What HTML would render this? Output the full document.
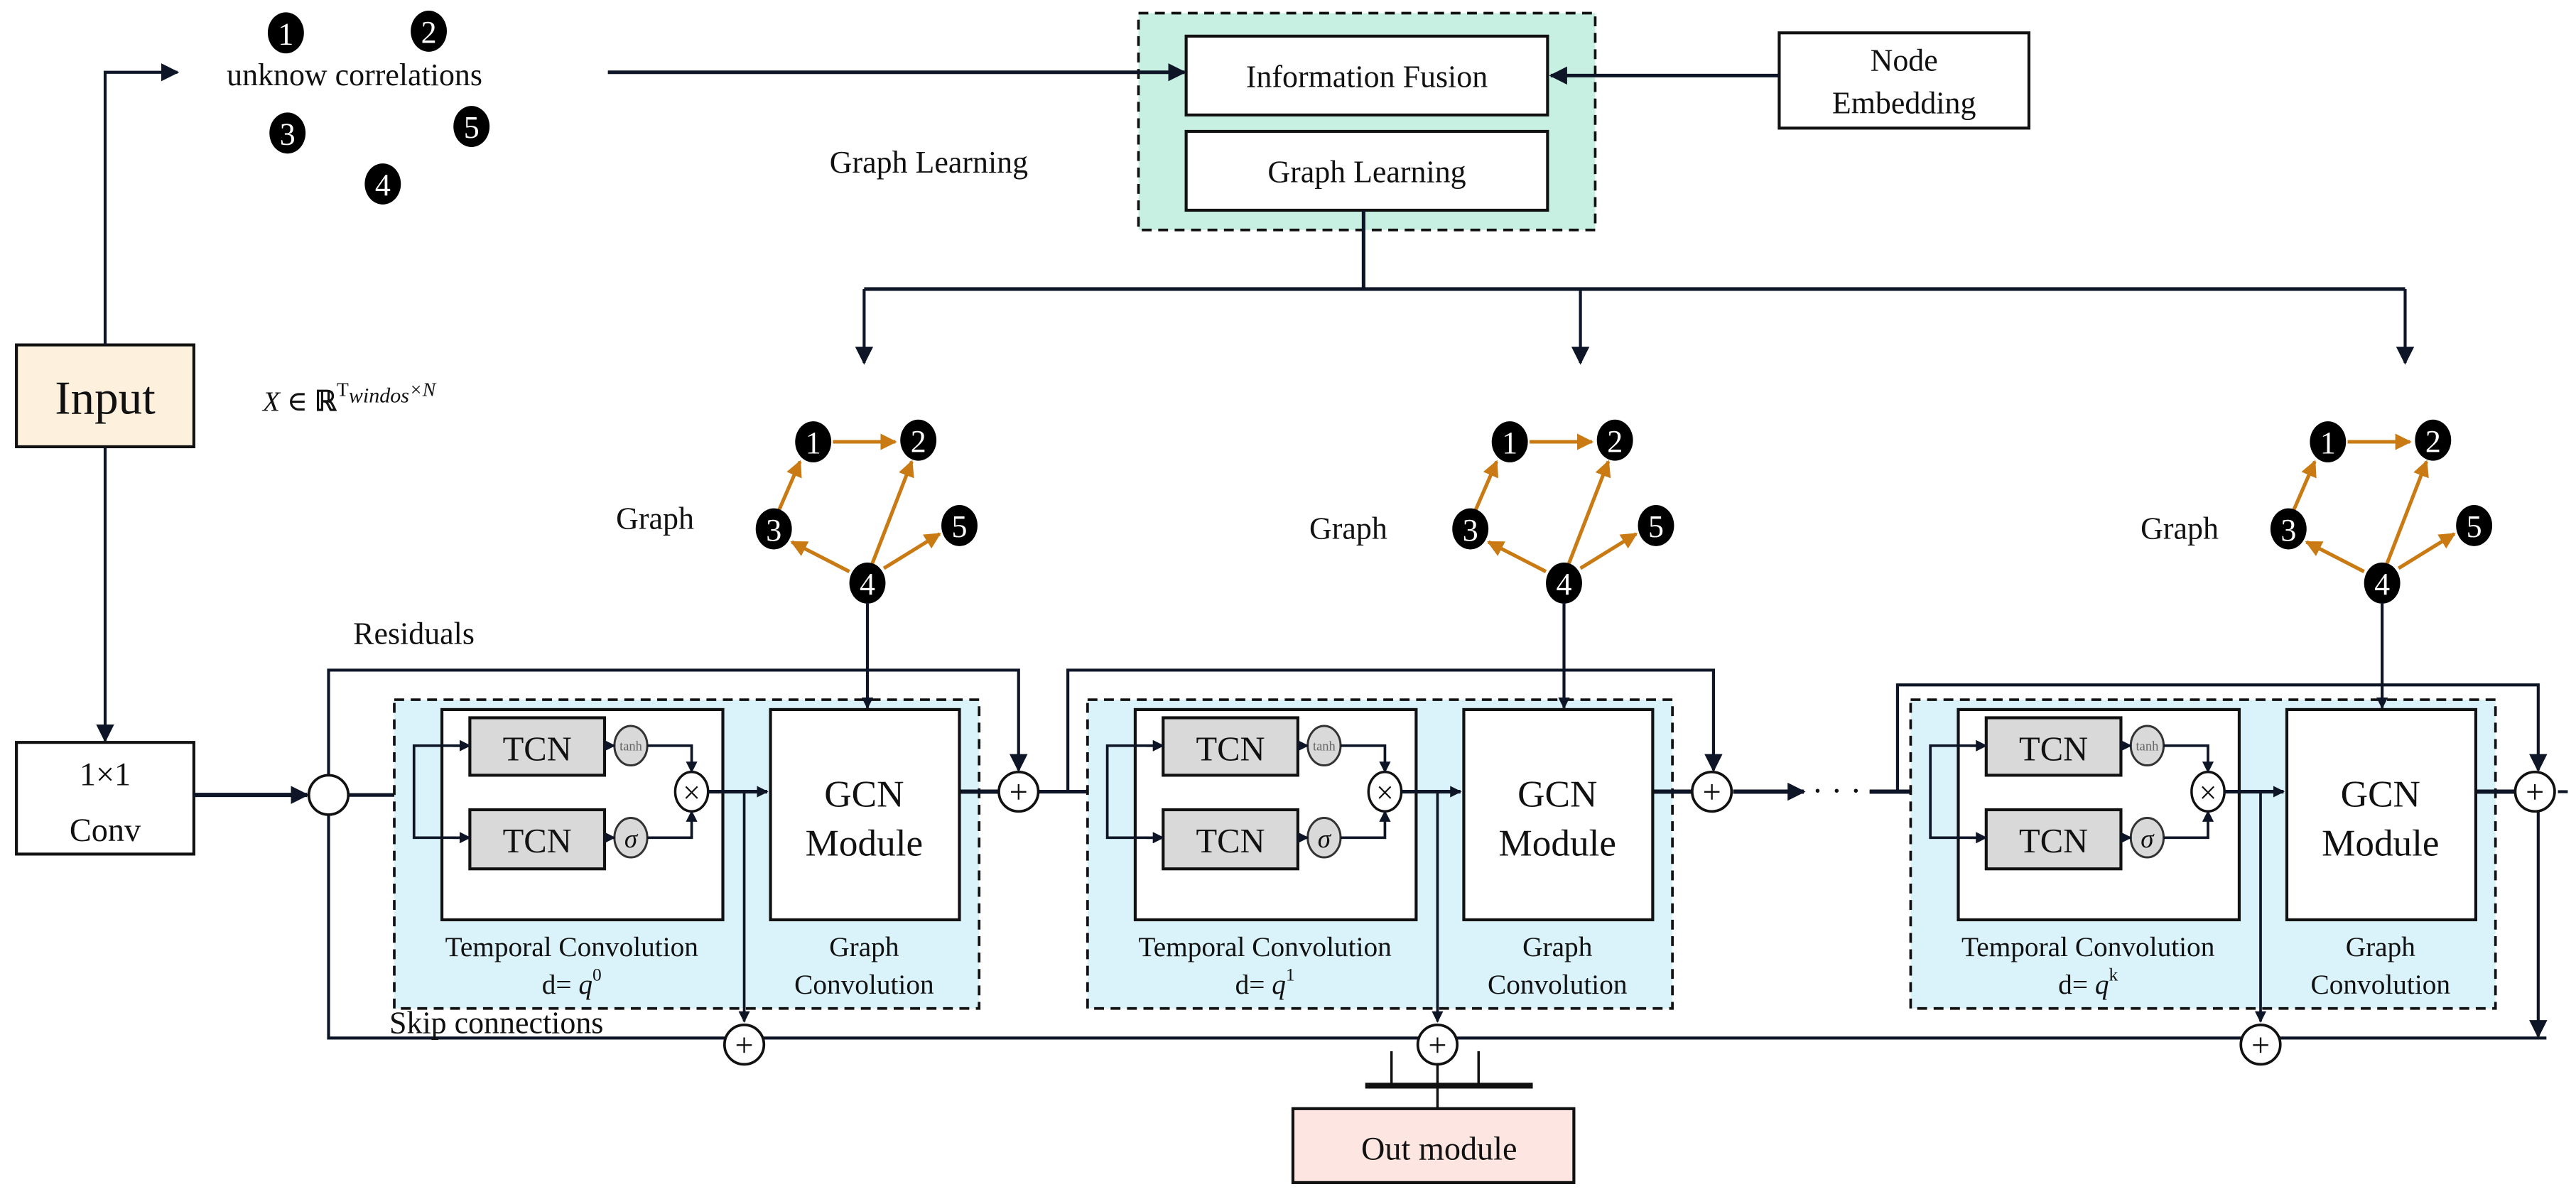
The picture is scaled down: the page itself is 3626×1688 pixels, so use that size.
<!DOCTYPE html>
<html><head><meta charset="utf-8"><style>
html,body{margin:0;padding:0;background:#fff;}
svg{display:block;}
svg text{font-family:"Liberation Serif","DejaVu Serif",serif;fill:#111;}
</style></head><body>
<svg width="3626" height="1688" viewBox="0 0 1568 730" preserveAspectRatio="none" xmlns="http://www.w3.org/2000/svg" font-family="Liberation Serif, DejaVu Serif, serif">
<defs>
<marker id="a" viewBox="0 0 10 10" refX="9" refY="5" markerWidth="7" markerHeight="7" markerUnits="userSpaceOnUse" orient="auto"><path d="M0,0 L10,5 L0,10 z" fill="#0d1526"/></marker>
<marker id="ab" viewBox="0 0 10 10" refX="9" refY="5" markerWidth="11" markerHeight="11" markerUnits="userSpaceOnUse" orient="auto"><path d="M0,0 L10,5 L0,10 z" fill="#0d1526"/></marker>
<marker id="o" viewBox="0 0 10 10" refX="9" refY="5" markerWidth="10" markerHeight="10" markerUnits="userSpaceOnUse" orient="auto"><path d="M0,0 L10,5 L0,10 z" fill="#c97a12"/></marker>
<g id="graph">
  <g stroke="#c97a12" stroke-width="2.2" fill="none" marker-end="url(#o)">
    <line x1="507" y1="269" x2="545" y2="269"/>
    <line x1="474" y1="311" x2="487" y2="281"/>
    <line x1="531" y1="343" x2="555" y2="281"/>
    <line x1="517" y1="348" x2="482" y2="330"/>
    <line x1="538" y1="346" x2="572" y2="325"/>
  </g>
  <g fill="#000">
    <ellipse cx="495" cy="269" rx="11" ry="12.5"/><ellipse cx="559" cy="268" rx="11" ry="12.5"/>
    <ellipse cx="471" cy="322" rx="11" ry="12.5"/><ellipse cx="584" cy="320" rx="11" ry="12.5"/>
    <ellipse cx="528" cy="355" rx="11" ry="12.5"/>
  </g>
  <g font-size="19" text-anchor="middle">
    <text x="495" y="276" style="fill:#fff">1</text><text x="559" y="275" style="fill:#fff">2</text>
    <text x="471" y="329" style="fill:#fff">3</text><text x="584" y="327" style="fill:#fff">5</text>
    <text x="528" y="362" style="fill:#fff">4</text>
  </g>
  <line x1="528" y1="367" x2="528" y2="431" stroke="#0d1526" stroke-width="1.8" marker-end="url(#a)"/>
</g>
<g id="blk">
  <rect x="240" y="426" width="356" height="188" fill="#daf2f9" stroke="#111" stroke-width="1.6" stroke-dasharray="6,4"/>
  <rect x="269" y="432" width="171" height="128" fill="#fff" stroke="#111" stroke-width="1.8"/>
  <rect x="286" y="437" width="82" height="35" fill="#d9d9d9" stroke="#111" stroke-width="1.8"/>
  <rect x="286" y="493" width="82" height="36" fill="#d9d9d9" stroke="#111" stroke-width="1.8"/>
  <text x="327" y="463" font-size="21" text-anchor="middle">TCN</text>
  <text x="327" y="519" font-size="21" text-anchor="middle">TCN</text>
  <ellipse cx="384" cy="454" rx="10" ry="12" fill="#d9d9d9" stroke="#333" stroke-width="1.3"/>
  <text x="384" y="457" font-size="8" text-anchor="middle" style="fill:#666">tanh</text>
  <ellipse cx="384" cy="510" rx="10" ry="12" fill="#d9d9d9" stroke="#333" stroke-width="1.3"/>
  <text x="384" y="516" font-size="16" font-style="italic" text-anchor="middle">σ</text>
  <ellipse cx="421" cy="482" rx="10" ry="12" fill="#fff" stroke="#111" stroke-width="1.5"/>
  <text x="421" y="489" font-size="19" text-anchor="middle">×</text>
  <g stroke="#0d1526" stroke-width="1.6" fill="none">
    <line x1="368" y1="454" x2="374" y2="454" marker-end="url(#a)"/>
    <line x1="368" y1="510" x2="374" y2="510" marker-end="url(#a)"/>
    <polyline points="394,454 421,454 421,470" marker-end="url(#a)"/>
    <polyline points="394,510 421,510 421,494" marker-end="url(#a)"/>
    <polyline points="284,454 252,454 252,510 284,510" />
    <line x1="276" y1="454" x2="286" y2="454" marker-end="url(#a)"/>
    <line x1="276" y1="510" x2="286" y2="510" marker-end="url(#a)"/>
    <line x1="431" y1="482" x2="467" y2="482" stroke-width="2.2" marker-end="url(#a)"/>
    <line x1="453" y1="482" x2="453" y2="622" marker-end="url(#a)"/>
    <line x1="584" y1="482" x2="608" y2="482" stroke-width="2.6"/>
  </g>
  <rect x="469" y="432" width="115" height="128" fill="#fff" stroke="#111" stroke-width="1.8"/>
  <text x="526" y="491" font-size="23" text-anchor="middle">GCN</text>
  <text x="526" y="521" font-size="23" text-anchor="middle">Module</text>
  <text x="526" y="582" font-size="17" text-anchor="middle">Graph</text>
  <text x="526" y="605" font-size="17" text-anchor="middle">Convolution</text>
  <circle cx="620" cy="482" r="12" fill="#fff" stroke="#111" stroke-width="1.6"/>
  <text x="620" y="489" font-size="20" text-anchor="middle">+</text>
  <circle cx="453" cy="636" r="12" fill="#fff" stroke="#111" stroke-width="1.6"/>
  <text x="453" y="643" font-size="20" text-anchor="middle">+</text>
</g>
</defs>

<rect x="10" y="210" width="108" height="62" fill="#fdf0dc" stroke="#111" stroke-width="1.8"/>
<text x="64" y="252" font-size="29" text-anchor="middle">Input</text>
<rect x="10" y="452" width="108" height="68" fill="#fff" stroke="#111" stroke-width="1.8"/>
<text x="64" y="478" font-size="20" text-anchor="middle">1×1</text>
<text x="64" y="512" font-size="20" text-anchor="middle">Conv</text>

<text x="138" y="52" font-size="19">unknow correlations</text>
<g fill="#000">
  <ellipse cx="174" cy="20" rx="11" ry="12.5"/><ellipse cx="261" cy="19" rx="11" ry="12.5"/>
  <ellipse cx="175" cy="81" rx="11" ry="12.5"/><ellipse cx="287" cy="77" rx="11" ry="12.5"/>
  <ellipse cx="233" cy="112" rx="11" ry="12.5"/>
</g>
<g font-size="19" text-anchor="middle">
  <text x="174" y="27" style="fill:#fff">1</text><text x="261" y="26" style="fill:#fff">2</text>
  <text x="175" y="88" style="fill:#fff">3</text><text x="287" y="84" style="fill:#fff">5</text>
  <text x="233" y="119" style="fill:#fff">4</text>
</g>
<text x="505" y="105" font-size="19">Graph Learning</text>
<text x="160" y="250" font-size="17" font-style="italic">X ∈ <tspan font-weight="bold" font-style="normal">ℝ</tspan><tspan font-size="12" dy="-9" font-style="normal">T</tspan><tspan font-size="13" dy="4">windos</tspan><tspan font-size="12" dy="-4">×N</tspan></text>

<!-- top green -->
<rect x="693" y="8" width="278" height="132" fill="#c8f0e2" stroke="#111" stroke-width="1.6" stroke-dasharray="6,4"/>
<rect x="722" y="22" width="220" height="48" fill="#fff" stroke="#111" stroke-width="1.8"/>
<text x="832" y="53" font-size="19" text-anchor="middle">Information Fusion</text>
<rect x="722" y="80" width="220" height="48" fill="#fff" stroke="#111" stroke-width="1.8"/>
<text x="832" y="111" font-size="19" text-anchor="middle">Graph Learning</text>
<rect x="1083" y="20" width="152" height="58" fill="#fff" stroke="#111" stroke-width="1.8"/>
<text x="1159" y="43" font-size="19" text-anchor="middle">Node</text>
<text x="1159" y="69" font-size="19" text-anchor="middle">Embedding</text>

<g stroke="#0d1526" stroke-width="1.8" fill="none">
  <polyline points="64,210 64,44 108,44" marker-end="url(#ab)"/>
  <line x1="64" y1="272" x2="64" y2="451" marker-end="url(#ab)"/>
  <line x1="370" y1="44" x2="721" y2="44" stroke-width="2.2" marker-end="url(#ab)"/>
  <line x1="1083" y1="46" x2="944" y2="46" stroke-width="2.2" marker-end="url(#ab)"/>
  <polyline points="830,128 830,176" stroke-width="2.2"/>
  <line x1="526" y1="176" x2="1464" y2="176" stroke-width="2.2"/>
  <line x1="526" y1="176" x2="526" y2="221" marker-end="url(#ab)"/>
  <line x1="962" y1="176" x2="962" y2="221" marker-end="url(#ab)"/>
  <line x1="1464" y1="176" x2="1464" y2="221" marker-end="url(#ab)"/>
</g>

<!-- main lines -->
<g stroke="#0d1526" stroke-width="1.8" fill="none">
  <line x1="118" y1="484" x2="187" y2="484" stroke-width="2.6" marker-end="url(#ab)"/>
  <line x1="212" y1="484" x2="252" y2="484" stroke-width="2.2"/>
  <polyline points="200,472 200,408 620,408 620,469" marker-end="url(#ab)"/>
  <polyline points="200,496 200,632 1550,632"/>
  <line x1="632" y1="482" x2="674" y2="482" stroke-width="2.2"/>
  <polyline points="650,482 650,408 1043,408 1043,469" marker-end="url(#ab)"/>
  <line x1="1055" y1="482" x2="1098" y2="482" stroke-width="2.6" marker-end="url(#ab)"/>
  <line x1="1138" y1="482" x2="1175" y2="482" stroke-width="2.6"/>
  <polyline points="1155,482 1155,417 1545,417 1545,469" marker-end="url(#ab)"/>
  <line x1="1545" y1="494" x2="1545" y2="631" marker-end="url(#ab)"/>
  <line x1="1557" y1="482" x2="1563" y2="482"/>
</g>
<circle cx="200" cy="484" r="12" fill="#fff" stroke="#111" stroke-width="1.6"/>
<text x="1118" y="488" font-size="20" text-anchor="middle">· · ·</text>
<text x="215" y="392" font-size="19">Residuals</text>
<text x="237" y="629" font-size="19">Skip connections</text>

<use href="#blk"/>
<use href="#blk" transform="translate(422,0)"/>
<use href="#blk" transform="translate(923,0)"/>

<!-- graphs (after blocks so arrows show) -->
<use href="#graph"/>
<use href="#graph" transform="translate(424,0)"/>
<use href="#graph" transform="translate(922,0)"/>
<text x="375" y="322" font-size="19">Graph</text>
<text x="797" y="328" font-size="19">Graph</text>
<text x="1303" y="328" font-size="19">Graph</text>

<text x="348" y="582" font-size="17" text-anchor="middle">Temporal  Convolution</text>
<text x="348" y="605" font-size="17" text-anchor="middle">d= <tspan font-style="italic">q</tspan><tspan font-size="11" dy="-8">0</tspan></text>
<text x="770" y="582" font-size="17" text-anchor="middle">Temporal Convolution</text>
<text x="770" y="605" font-size="17" text-anchor="middle">d= <tspan font-style="italic">q</tspan><tspan font-size="11" dy="-8">1</tspan></text>
<text x="1271" y="582" font-size="17" text-anchor="middle">Temporal Convolution</text>
<text x="1271" y="605" font-size="17" text-anchor="middle">d= <tspan font-style="italic">q</tspan><tspan font-size="11" dy="-8">k</tspan></text>

<!-- out module -->
<g stroke="#111" fill="none">
  <line x1="831" y1="661" x2="933" y2="661" stroke-width="3.5"/>
  <line x1="847" y1="640" x2="847" y2="661" stroke-width="1.5"/>
  <line x1="900" y1="640" x2="900" y2="661" stroke-width="1.5"/>
  <line x1="875" y1="648" x2="875" y2="675" stroke-width="1.5"/>
</g>
<rect x="787" y="675" width="171" height="45" fill="#fde6e1" stroke="#111" stroke-width="1.8"/>
<text x="876" y="706" font-size="20" text-anchor="middle">Out module</text>
</svg>
</body></html>
